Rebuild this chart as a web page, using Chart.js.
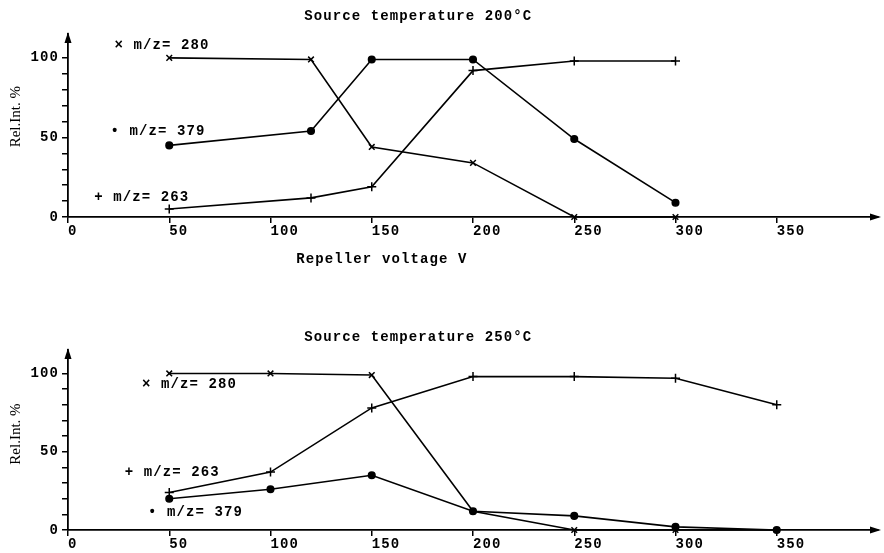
<!DOCTYPE html>
<html>
<head>
<meta charset="utf-8">
<script src="https://cdn.jsdelivr.net/npm/chart.js@4.4.1/dist/chart.umd.min.js"></script>
<style>
  html, body { margin: 0; padding: 0; background: #fff; }
  #wrap { position: relative; width: 884px; height: 553px; }
  canvas { position: absolute; left: 0; }
  #topChart { top: 0; }
  #bottomChart { top: 276px; }
</style>
</head>
<body>
<div id="wrap">
  <canvas id="topChart" width="884" height="276"></canvas>
  <canvas id="bottomChart" width="884" height="277"></canvas>
</div>
<script>
/* ----------- Data ----------- */
// source temperature 200 C
const voltTop = [50, 120, 150, 200, 250, 300];
const top280 = [100, 99, 44, 34, 0, 0];
const top379 = [45, 54, 99, 99, 49, 9];
const top263 = [5, 12, 19, 92, 98, 98];

// source temperature 250 C
const voltBottom = [50, 100, 150, 200, 250, 300, 350];
const bottom280 = [100, 100, 99, 12, 0, 0, 0];
const bottom379 = [20, 26, 35, 12, 9, 2, 0];
const bottom263 = [24, 37, 78, 98, 98, 97, 80];

const seriesNames = ['m/z= 280', 'm/z= 379', 'm/z= 263'];
const seriesMarks = ['\u00d7', '\u2022', '+'];
const yLabelTicks = [0, 50, 100];
const xLastTick = 350;
const yLastTick = 100;

const MONO = 'bold 14px "Liberation Mono", "DejaVu Sans Mono", monospace';
const SERIF = '15px "Liberation Serif", "DejaVu Serif", serif';
const SPACING = '1.1px';

/* ----------- Drawing helpers ----------- */
const decor = {
    id: 'decor',
    beforeDraw(chart) {
        chart.ctx.letterSpacing = SPACING;
    },
    afterDraw(chart, args, o) {
        const { ctx, chartArea: a, scales: { x, y } } = chart;
        ctx.save();
        ctx.fillStyle = '#000';

        // arrow heads on both axes
        ctx.beginPath();
        ctx.moveTo(a.left, a.top - 2);
        ctx.lineTo(a.left - 3.5, a.top + 9);
        ctx.lineTo(a.left + 3.5, a.top + 9);
        ctx.closePath();
        ctx.fill();
        ctx.beginPath();
        ctx.moveTo(a.right + 3, a.bottom);
        ctx.lineTo(a.right - 8, a.bottom - 3.5);
        ctx.lineTo(a.right - 8, a.bottom + 3.5);
        ctx.closePath();
        ctx.fill();

        ctx.font = MONO;
        ctx.letterSpacing = SPACING;
        ctx.textBaseline = 'middle';

        // title and optional x axis title
        ctx.textAlign = 'center';
        ctx.fillText(o.title, x.getPixelForValue(o.titleAt[0]), y.getPixelForValue(o.titleAt[1]));
        if (o.xTitle) {
            ctx.fillText(o.xTitle, x.getPixelForValue(o.xTitleAt[0]), y.getPixelForValue(o.xTitleAt[1]));
        }

        // series names next to the curves
        ctx.textAlign = 'left';
        o.notes.forEach(n => {
            ctx.fillText(seriesMarks[n.s] + ' ' + seriesNames[n.s], x.getPixelForValue(n.x), y.getPixelForValue(n.y));
        });

        // rotated y axis title
        ctx.font = SERIF;
        ctx.letterSpacing = '0px';
        ctx.textAlign = 'center';
        ctx.translate(x.getPixelForValue(o.yTitleAt[0]), y.getPixelForValue(o.yTitleAt[1]));
        ctx.rotate(-Math.PI / 2);
        ctx.fillText('Rel.Int. %', 0, 0);
        ctx.restore();
    }
};

function toPoints(xs, ys) {
    return xs.map((v, i) => ({ x: v, y: ys[i] }));
}

function series(xs, ys, style, radius) {
    return {
        data: toPoints(xs, ys),
        borderColor: '#000',
        backgroundColor: '#000',
        borderWidth: 1.6,
        pointStyle: style,
        pointRadius: radius,
        pointBorderWidth: 1.5,
        pointBorderColor: '#000',
        pointBackgroundColor: '#000',
        tension: 0,
        clip: false
    };
}

const tickFont = { family: '"Liberation Mono", monospace', size: 14, weight: 'bold' };

function createChart(id, xs, s280, s379, s263, cfg) {
    return new Chart(document.getElementById(id), {
        type: 'line',
        data: {
            datasets: [
                series(xs, s280, 'crossRot', 4),
                series(xs, s379, 'circle', 3.3),
                series(xs, s263, 'cross', 4.5)
            ]
        },
        plugins: [decor],
        options: {
            responsive: false,
            devicePixelRatio: 1,
            animation: false,
            events: [],
            layout: { padding: { top: cfg.padTop, left: 0, right: 4, bottom: 0 } },
            plugins: {
                legend: { display: false },
                tooltip: { enabled: false },
                decor: cfg
            },
            scales: {
                x: {
                    type: 'linear',
                    min: 0,
                    max: 400,
                    afterFit: s => { s.height = cfg.xAxisHeight; },
                    afterBuildTicks: s => { s.ticks = s.ticks.filter(t => t.value <= xLastTick); },
                    ticks: {
                        stepSize: 50,
                        align: 'start',
                        maxRotation: 0,
                        autoSkip: false,
                        padding: 0,
                        color: '#000',
                        font: tickFont
                    },
                    grid: { drawOnChartArea: false, tickLength: 6, color: '#000', lineWidth: 1.5 },
                    border: { color: '#000', width: 1.8 }
                },
                y: {
                    min: 0,
                    max: 115,
                    afterFit: s => { s.width = 68; },
                    afterBuildTicks: s => { s.ticks = s.ticks.filter(t => t.value <= yLastTick); },
                    ticks: {
                        stepSize: 10,
                        includeBounds: false,
                        autoSkip: false,
                        padding: 3,
                        color: '#000',
                        font: tickFont,
                        callback: v => yLabelTicks.includes(v) ? String(v) : ''
                    },
                    grid: { drawOnChartArea: false, tickLength: 6, color: '#000', lineWidth: 1.5 },
                    border: { color: '#000', width: 1.8 }
                }
            }
        }
    });
}

/* ----------- Charts ----------- */
createChart('topChart', voltTop, top280, top379, top263, {
    padTop: 34,
    xAxisHeight: 59,
    title: 'Source temperature 200\u00b0C',
    titleAt: [173, 126],
    xTitle: 'Repeller voltage V',
    xTitleAt: [155, -26.5],
    yTitleAt: [-25.5, 63],
    notes: [
        { s: 0, x: 23, y: 108 },
        { s: 1, x: 21, y: 53.5 },
        { s: 2, x: 13, y: 12.5 }
    ]
});

createChart('bottomChart', voltBottom, bottom280, bottom379, bottom263, {
    padTop: 74,
    xAxisHeight: 23,
    title: 'Source temperature 250\u00b0C',
    titleAt: [173, 123.3],
    xTitle: null,
    yTitleAt: [-25.5, 61.3],
    notes: [
        { s: 0, x: 36.5, y: 93 },
        { s: 2, x: 28, y: 37 },
        { s: 1, x: 39.5, y: 11.5 }
    ]
});
</script>
</body>
</html>
